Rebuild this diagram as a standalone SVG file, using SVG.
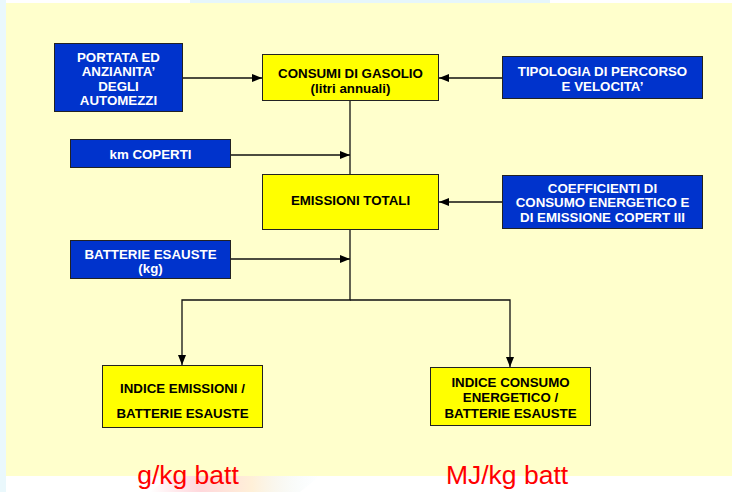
<svg xmlns="http://www.w3.org/2000/svg" width="732" height="492" viewBox="0 0 732 492">
<defs>
<marker id="arr" viewBox="0 0 10 8" refX="10" refY="4" markerWidth="10" markerHeight="8" markerUnits="userSpaceOnUse" orient="auto">
<path d="M0,0 L10,4 L0,8 Z" fill="#000"/>
</marker>
<linearGradient id="sw" x1="0" y1="0" x2="1" y2="0">
<stop offset="0" stop-color="#ffd0d8" stop-opacity="0"/>
<stop offset="0.3" stop-color="#ffd8dc"/>
<stop offset="0.6" stop-color="#fff0d8"/>
<stop offset="1" stop-color="#e8f8ff" stop-opacity="0"/>
</linearGradient>
<style>
.blue{fill:#0033cc;stroke:#222;stroke-width:1}
.yel{fill:#ffff00;stroke:#222;stroke-width:1}
.tw{fill:#fff;font-family:"Liberation Sans",Arial,sans-serif;font-weight:bold;font-size:13.3px;text-anchor:middle}
.tb{fill:#000;font-family:"Liberation Sans",Arial,sans-serif;font-weight:bold;font-size:13.3px;text-anchor:middle}
.red{fill:#ff0000;font-family:"Liberation Sans",Arial,sans-serif;font-size:26.5px;text-anchor:middle}
.ln{fill:none;stroke:#111;stroke-width:1.3}
</style>
</defs>
<rect x="0" y="0" width="732" height="492" fill="#fff"/>
<rect x="0" y="0" width="6" height="492" fill="#eaf8fc"/>
<rect x="190" y="0" width="360" height="3" fill="#e6f6fb"/>
<path d="M150,492 L170,476 L320,476 L300,492 Z" fill="url(#sw)"/>
<rect x="6" y="3" width="726" height="473" fill="#ffffcc"/>
<g id="connectors">
<line class="ln" x1="183" y1="78" x2="262" y2="78" marker-end="url(#arr)"/>
<line class="ln" x1="502" y1="78" x2="439" y2="78" marker-end="url(#arr)"/>
<line class="ln" x1="350" y1="101" x2="350" y2="174"/>
<line class="ln" x1="231" y1="155" x2="350" y2="155" marker-end="url(#arr)"/>
<line class="ln" x1="502" y1="202" x2="439" y2="202" marker-end="url(#arr)"/>
<line class="ln" x1="231" y1="259" x2="350" y2="259" marker-end="url(#arr)"/>
<path class="ln" d="M350,230 L350,300 L182,300 L182,365" marker-end="url(#arr)"/>
<path class="ln" d="M350,300 L510,300 L510,367" marker-end="url(#arr)"/>
</g>
<g id="portata">
<rect class="blue" x="54.5" y="43.5" width="128" height="68"/>
<text class="tw" x="118.5" y="61.5">PORTATA ED</text>
<text class="tw" x="118.5" y="76">ANZIANITA’</text>
<text class="tw" x="118.5" y="90.5">DEGLI</text>
<text class="tw" x="118.5" y="105">AUTOMEZZI</text>
</g>
<g id="consumi">
<rect class="yel" x="262.5" y="54.5" width="176" height="46"/>
<text class="tb" x="350.5" y="78.3">CONSUMI DI GASOLIO</text>
<text class="tb" x="350.5" y="93">(litri annuali)</text>
</g>
<g id="tipologia">
<rect class="blue" x="502.5" y="56.5" width="200" height="42"/>
<text class="tw" x="602.5" y="75.7">TIPOLOGIA DI PERCORSO</text>
<text class="tw" x="602.5" y="90.7">E VELOCITA’</text>
</g>
<g id="km">
<rect class="blue" x="70.5" y="139.5" width="160" height="28"/>
<text class="tw" x="150.5" y="159.3">km COPERTI</text>
</g>
<g id="emissioni">
<rect class="yel" x="262.5" y="174.5" width="176" height="55"/>
<text class="tb" x="350.5" y="205">EMISSIONI TOTALI</text>
</g>
<g id="coefficienti">
<rect class="blue" x="502.5" y="175.5" width="200" height="53"/>
<text class="tw" x="602.5" y="192.7">COEFFICIENTI DI</text>
<text class="tw" x="602.5" y="207.3">CONSUMO ENERGETICO E</text>
<text class="tw" x="602.5" y="221.7">DI EMISSIONE COPERT III</text>
</g>
<g id="batterie">
<rect class="blue" x="70.5" y="240.5" width="160" height="38"/>
<text class="tw" x="150.5" y="258.7">BATTERIE ESAUSTE</text>
<text class="tw" x="150.5" y="273.2">(kg)</text>
</g>
<g id="indice-emissioni">
<rect class="yel" x="102.5" y="365.5" width="160" height="62"/>
<text class="tb" x="182.5" y="392.7">INDICE EMISSIONI /</text>
<text class="tb" x="182.5" y="417.7">BATTERIE ESAUSTE</text>
</g>
<g id="indice-consumo">
<rect class="yel" x="430.5" y="367.5" width="160" height="58"/>
<text class="tb" x="510.5" y="386.7">INDICE CONSUMO</text>
<text class="tb" x="510.5" y="402.2">ENERGETICO /</text>
<text class="tb" x="510.5" y="417.7">BATTERIE ESAUSTE</text>
</g>
<text class="red" x="188" y="484">g/kg batt</text>
<text class="red" x="507" y="484">MJ/kg batt</text>
</svg>
